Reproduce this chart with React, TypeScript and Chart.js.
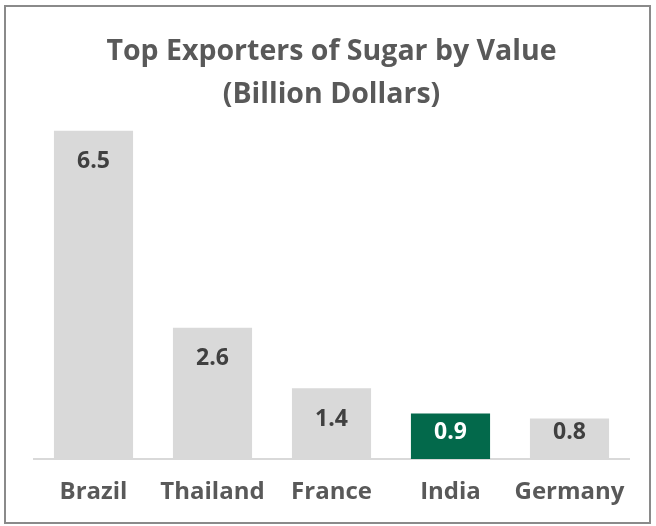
import React, { useEffect, useRef } from "react";
import { Chart, registerables } from "chart.js";

Chart.register(...registerables);

const categories = ["Brazil", "Thailand", "France", "India", "Germany"];
const values = [6.5, 2.6, 1.4, 0.9, 0.8];
const barColors = ["#d9d9d9", "#d9d9d9", "#d9d9d9", "#03694b", "#d9d9d9"];
const labelColors = ["#404040", "#404040", "#404040", "#ffffff", "#404040"];
const titleLines = ["Top Exporters of Sugar by Value", "(Billion Dollars)"];

const FONT = "'Open Sans', Lato, sans-serif";

const valueLabels = {
  id: "valueLabels",
  afterDatasetsDraw(chart: any) {
    const ctx = chart.ctx;
    const meta = chart.getDatasetMeta(0);
    const base = chart.scales.y.getPixelForValue(0);
    ctx.save();
    ctx.font = `bold 23px ${FONT}`;
    ctx.textAlign = "center";
    ctx.textBaseline = "middle";
    meta.data.forEach((bar: any, i: number) => {
      const y = Math.min(bar.y + 31, base - 27);
      ctx.fillStyle = labelColors[i];
      ctx.fillText(values[i].toFixed(1), bar.x, y);
    });
    ctx.restore();
  },
};

export default function App() {
  const ref = useRef<HTMLCanvasElement>(null);
  useEffect(() => {
    if (!ref.current) return;
    const chart = new Chart(ref.current, {
      type: "bar",
      data: {
        labels: categories,
        datasets: [
          {
            data: values,
            backgroundColor: barColors,
            borderWidth: 0,
            categoryPercentage: 1,
            barPercentage: 0.665,
          },
        ],
      },
      options: {
        animation: false,
        responsive: false,
        layout: { padding: { left: 34, right: 27, top: 0, bottom: 0 } },
        plugins: {
          legend: { display: false },
          tooltip: { enabled: false },
          title: {
            display: true,
            text: titleLines,
            color: "#595959",
            font: { family: FONT, size: 28.5, weight: "bold", lineHeight: 43 / 28.5 },
            padding: { top: 30.5, bottom: 0 },
          },
        },
        scales: {
          x: {
            grid: { display: false, drawTicks: false },
            border: { display: true, color: "#d9d9d9", width: 2 },
            ticks: {
              color: "#595959",
              font: { family: FONT, size: 24, weight: "bold" },
              padding: 19,
              maxRotation: 0,
              autoSkip: false,
            },
            afterFit: (scale: any) => {
              scale.height = 67;
            },
          },
          y: {
            display: false,
            min: 0,
            max: 6.78,
          },
        },
      },
      plugins: [valueLabels],
    });
    return () => chart.destroy();
  }, []);
  return (
    <div style={{ position: "fixed", left: 0, top: 0, width: 656, height: 526, background: "#fff" }}>
      <canvas ref={ref} width={656} height={526} style={{ position: "absolute", left: 0, top: 0 }} />
      <div
        style={{
          position: "absolute",
          left: 4,
          top: 5,
          width: 647,
          height: 519,
          border: "2px solid #8a8a8a",
          boxSizing: "border-box",
          pointerEvents: "none",
        }}
      />
    </div>
  );
}
